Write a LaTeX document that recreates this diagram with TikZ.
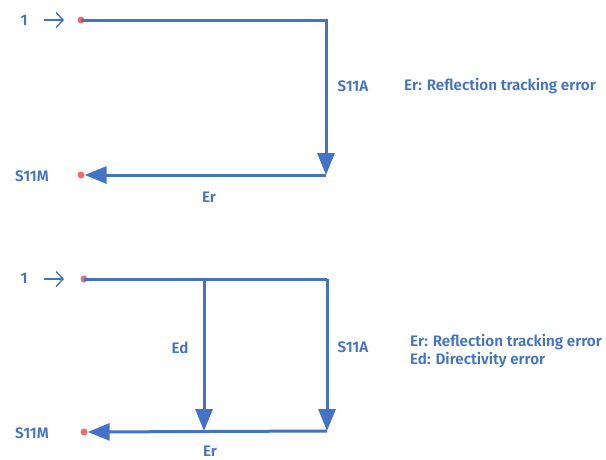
\documentclass[tikz,border=0pt]{standalone}
\usepackage{fontspec}
\setmainfont{Fira Sans}[BoldFont={Fira Sans SemiBold}]
\usetikzlibrary{arrows.meta}
\definecolor{lblue}{HTML}{4472C4}
\definecolor{dotred}{HTML}{F26B6B}
\begin{document}
\begin{tikzpicture}[x=1pt,y=-1pt,
  lbl/.style={text=lblue,font=\bfseries\fontsize{15.2}{18}\selectfont,inner sep=0pt},
  wire/.style={draw=lblue,line width=3pt},
  arr/.style={wire,-{Triangle[length=22pt,width=17pt]}},
  pt/.style={circle,fill=dotred,inner sep=0pt,minimum size=7pt},
  thin/.style={draw=lblue,line width=1.4pt,-{Straight Barb[length=7pt,width=15pt]}}]
\useasboundingbox (0,0) rectangle (606,459);
% top diagram
\node[lbl] (one1) at (24,20) {1};
\coordinate (ta1) at (44,20);
\coordinate (tb1) at (64,20);
\draw[thin] (ta1) -- (tb1);
\node[pt] (in1) at (81,20) {};
\coordinate (c1) at (326,20);
\coordinate (d1) at (326,175);
\node[pt] (out1) at (81,175) {};
\draw[wire] (in1.center) -- (c1) -- (326,150);
\draw[arr] (c1) -- (d1);
\draw[arr] (d1) -- (out1.east);
\node[lbl] (s11m1) at (32,176) {S11M};
\node[lbl] (er1) at (209,197) {Er};
\node[lbl] (s11a1) at (353,86) {S11A};
\node[lbl,anchor=west] (leg1) at (404,86) {Er: Reflection tracking error};
% bottom diagram
\node[lbl] (one2) at (24,278) {1};
\coordinate (ta2) at (44,279);
\coordinate (tb2) at (64,279);
\draw[thin] (ta2) -- (tb2);
\node[pt] (in2) at (84,279) {};
\coordinate (m2) at (204,279);
\coordinate (c2) at (327,279);
\coordinate (md2) at (204,431);
\coordinate (d2) at (327,431);
\node[pt] (out2) at (84,432) {};
\draw[wire] (in2.center) -- (c2);
\draw[arr] (m2) -- (md2);
\draw[arr] (c2) -- (d2);
\draw[arr] (d2) -- (out2.east);
\node[lbl] (s11m2) at (32,433) {S11M};
\node[lbl] (ed2) at (180,348) {Ed};
\node[lbl] (s11a2) at (353,347) {S11A};
\node[lbl] (er2) at (210,451) {Er};
\node[lbl,anchor=west] (leg2) at (410,342) {Er: Reflection tracking error};
\node[lbl,anchor=west] (leg3) at (410,360) {Ed: Directivity error};
\end{tikzpicture}
\end{document}
